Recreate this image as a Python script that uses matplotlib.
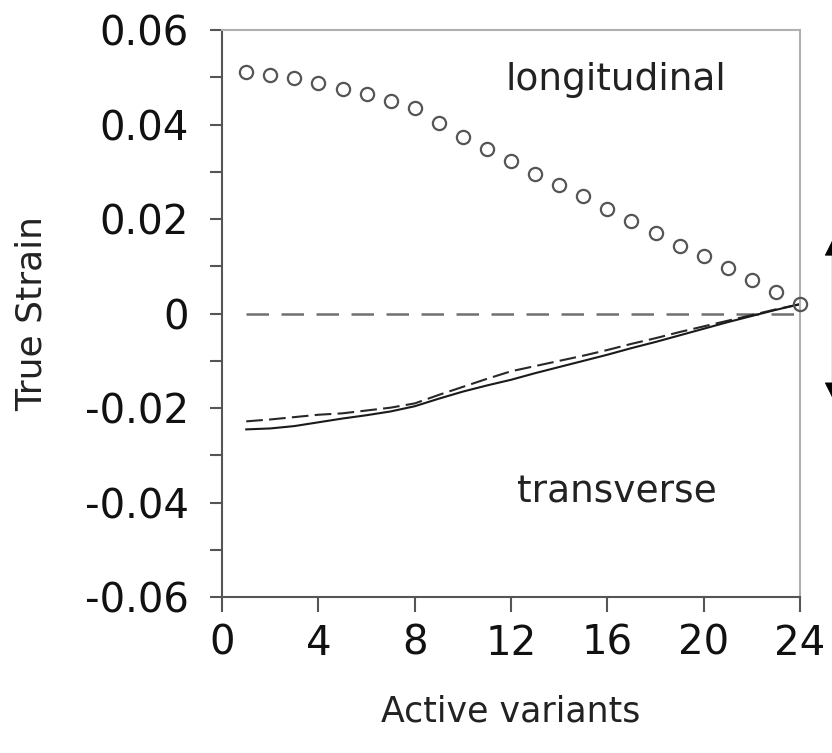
import numpy as np
import matplotlib.pyplot as plt

# active variants 1..24
variants = list(range(1, 25))

longitudinal = [0.0512, 0.0505, 0.0498, 0.0488, 0.0475, 0.0465, 0.0450, 0.0436,
                0.0403, 0.0374, 0.0348, 0.0322, 0.0295, 0.0272, 0.0249, 0.0222,
                0.0196, 0.0170, 0.0144, 0.0121, 0.0097, 0.0072, 0.0045, 0.0020]

transverse_solid = [-0.0245, -0.0243, -0.0238, -0.0230, -0.0222, -0.0215, -0.0207, -0.0196,
                    -0.0180, -0.0165, -0.0152, -0.0140, -0.0126, -0.0113, -0.0100, -0.0087,
                    -0.0073, -0.0060, -0.0046, -0.0032, -0.0018, -0.0005, 0.0008, 0.0020]

transverse_dash = [-0.0228, -0.0224, -0.0219, -0.0214, -0.0211, -0.0205, -0.0199, -0.0190,
                   -0.0172, -0.0155, -0.0138, -0.0122, -0.0111, -0.0100, -0.0089, -0.0077,
                   -0.0064, -0.0052, -0.0039, -0.0027, -0.0015, -0.0003, 0.0009, 0.0020]

xticks = [0, 4, 8, 12, 16, 20, 24]
yticks = [-0.06, -0.04, -0.02, 0, 0.02, 0.04, 0.06]
yticklabels = ['-0.06', '-0.04', '-0.02', '0', '0.02', '0.04', '0.06']

plt.rcParams['font.family'] = ['DejaVu Sans']

fig = plt.figure(figsize=(8.32, 7.53), dpi=100)
ax = fig.add_axes([0.267, 0.207, 0.6945, 0.753])

# zero reference line
ax.plot([variants[0], variants[-1]], [0, 0], color='#707070', linewidth=1.8,
        dashes=(9, 5))

ax.plot(variants, transverse_dash, color='#282828', linewidth=1.5, dashes=(8, 3))
ax.plot(variants, transverse_solid, color='#1a1a1a', linewidth=1.5)
ax.plot(variants, longitudinal, linestyle='none', marker='o', markersize=9.5,
        markerfacecolor='none', markeredgecolor='#555555', markeredgewidth=1.6,
        clip_on=False, zorder=5)

ax.text(16.35, 0.0495, 'longitudinal', fontsize=27, ha='center', va='center', color='#222222')
ax.text(16.4, -0.0378, 'transverse', fontsize=27, ha='center', va='center', color='#222222')

ax.set_xlim(0, 24)
ax.set_ylim(-0.06, 0.06)
ax.set_xticks(xticks)
ax.set_yticks(yticks)
ax.set_yticklabels(yticklabels)
ax.set_yticks(np.arange(-0.05, 0.06, 0.02), minor=True)

ax.tick_params(axis='both', which='both', direction='out', colors='#555555',
               labelcolor='#111111', labelsize=29, width=1.5)
ax.tick_params(axis='y', which='both', length=9, pad=15)
ax.tick_params(axis='x', which='major', length=11, pad=8)

for side in ['left', 'bottom']:
    ax.spines[side].set_color('#555555')
    ax.spines[side].set_linewidth(1.5)
for side in ['top', 'right']:
    ax.spines[side].set_color('#b0b0b0')
    ax.spines[side].set_linewidth(1.5)

ax.set_xlabel('Active variants', fontsize=25, labelpad=22, color='#222222')
ax.set_ylabel('True Strain', fontsize=26, labelpad=26, color='#222222')

# partly visible double arrow at the right edge
ax.annotate('', xy=(1.056, -0.0184), xytext=(1.056, 0.0161),
            xycoords=ax.get_yaxis_transform(), textcoords=ax.get_yaxis_transform(),
            arrowprops=dict(arrowstyle='<|-|>,head_length=1.0,head_width=0.5',
                            color='black', linewidth=0.6),
            annotation_clip=False)

fig.savefig('out.png', dpi=100, facecolor='white')
